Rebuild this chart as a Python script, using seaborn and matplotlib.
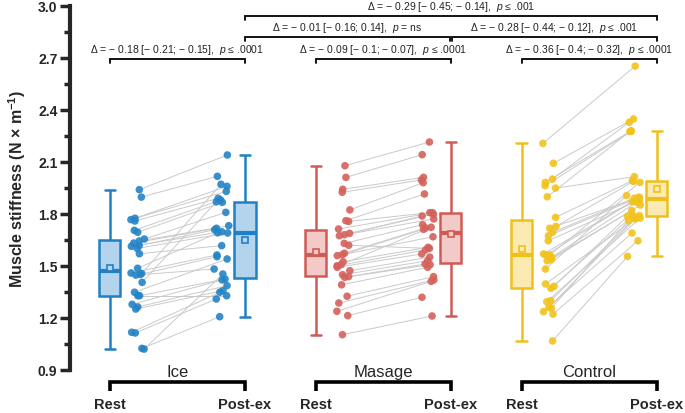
import numpy as np
import pandas as pd
import seaborn as sns
import matplotlib.pyplot as plt
from matplotlib.ticker import MultipleLocator

# values, one entry per subject (rest / post-ex paired)
groups = ['Ice', 'Masage', 'Control']
phases = ['Rest', 'Post-ex']

ice_rest = [1.939, 1.896, 1.774, 1.766, 1.455, 1.758, 1.704, 1.693, 1.654, 1.643,
            1.631, 1.616, 1.612, 1.600, 1.569, 1.485, 1.458, 1.450, 1.446, 1.404,
            1.347, 1.327, 1.327, 1.277, 1.262, 1.250, 1.116, 1.112, 1.023, 1.019]
ice_post = [2.139, 2.016, 1.958, 1.929, 1.970, 1.889, 1.879, 1.866, 1.808, 1.731,
            1.716, 1.708, 1.696, 1.689, 1.616, 1.690, 1.562, 1.552, 1.481, 1.869,
            1.539, 1.327, 1.423, 1.418, 1.385, 1.356, 1.347, 1.308, 1.206, 1.452]

mas_rest = [2.077, 2.010, 1.941, 1.924, 1.822, 1.760, 1.756, 1.712, 1.687, 1.679,
            1.673, 1.629, 1.618, 1.572, 1.564, 1.558, 1.523, 1.506, 1.500, 1.491,
            1.471, 1.448, 1.437, 1.433, 1.390, 1.324, 1.285, 1.237, 1.212, 1.102]
mas_post = [2.214, 2.141, 2.010, 1.995, 1.979, 1.914, 1.806, 1.806, 1.798, 1.787,
            1.770, 1.737, 1.600, 1.718, 1.710, 1.667, 1.606, 1.722, 1.591, 1.568,
            1.550, 1.529, 1.510, 1.506, 1.491, 1.437, 1.418, 1.410, 1.318, 1.210]

con_rest = [2.206, 2.091, 2.000, 1.981, 1.962, 1.948, 1.898, 1.779, 1.727, 1.716,
            1.693, 1.673, 1.644, 1.568, 1.562, 1.562, 1.549, 1.535, 1.529, 1.481,
            1.395, 1.381, 1.370, 1.298, 1.292, 1.260, 1.255, 1.235, 1.221, 1.066]
con_post = [2.652, 2.347, 2.328, 2.279, 2.275, 2.014, 2.275, 1.991, 1.987, 1.895,
            1.890, 1.894, 1.880, 1.870, 1.981, 1.889, 1.866, 1.850, 1.818, 1.905,
            1.789, 1.785, 1.790, 1.779, 1.775, 1.770, 1.760, 1.689, 1.644, 1.554]

comparisons = [
    ('Ice', 'Rest', 'Ice', 'Post-ex', 0, '\u0394 = \u2212 0.18 [\u2212 0.21; \u2212 0.15],  $p$ \u2264 .0001'),
    ('Masage', 'Rest', 'Masage', 'Post-ex', 0, '\u0394 = \u2212 0.09 [\u2212 0.1; \u2212 0.07],  $p$ \u2264 .0001'),
    ('Control', 'Rest', 'Control', 'Post-ex', 0, '\u0394 = \u2212 0.36 [\u2212 0.4; \u2212 0.32],  $p$ \u2264 .0001'),
    ('Ice', 'Post-ex', 'Masage', 'Post-ex', 1, '\u0394 = \u2212 0.01 [\u2212 0.16; 0.14],  $p$ = ns'),
    ('Masage', 'Post-ex', 'Control', 'Post-ex', 1, '\u0394 = \u2212 0.28 [\u2212 0.44; \u2212 0.12],  $p$ \u2264 .001'),
    ('Ice', 'Post-ex', 'Control', 'Post-ex', 2, '\u0394 = \u2212 0.29 [\u2212 0.45; \u2212 0.14],  $p$ \u2264 .001'),
]

dots = {'Ice': '#2584c6', 'Masage': '#d4625b', 'Control': '#f1c31c'}
edges = {'Ice': '#1f80c4', 'Masage': '#d05b54', 'Control': '#f0c01a'}
faces = {'Ice': '#b4d4ee', 'Masage': '#f3cac7', 'Control': '#fbebb3'}
offset = {'Ice': 0.0, 'Masage': 1.525, 'Control': 3.05}

# long table
rows = []
rng = np.random.default_rng(7)
values = {'Ice': (ice_rest, ice_post), 'Masage': (mas_rest, mas_post), 'Control': (con_rest, con_post)}
for g in groups:
    rest, post = values[g]
    for i, (r, p) in enumerate(zip(rest, post)):
        sid = f'{g}_{i}'
        rows.append(dict(group=g, subject=sid, phase='Rest', value=r, pos=offset[g],
                         xj=offset[g] + 0.205 + rng.uniform(-0.05, 0.05)))
        rows.append(dict(group=g, subject=sid, phase='Post-ex', value=p, pos=offset[g] + 1,
                         xj=offset[g] + 0.826 + rng.uniform(-0.055, 0.055)))
df = pd.DataFrame(rows)

sns.set_style('ticks')
plt.rcParams['font.family'] = ['Liberation Sans', 'DejaVu Sans']
plt.rcParams['mathtext.fontset'] = 'custom'
plt.rcParams['mathtext.it'] = 'Liberation Sans:italic'
plt.rcParams['mathtext.bf'] = 'Liberation Sans:bold'
plt.rcParams['mathtext.rm'] = 'Liberation Sans'

fig = plt.figure(figsize=(6.85, 4.14), dpi=100)
ax = fig.add_axes([70 / 685, 43.3 / 414, 610 / 685, 363.9 / 414])

# paired lines
sns.lineplot(data=df, x='xj', y='value', units='subject', estimator=None, sort=False,
             color='#cacaca', linewidth=0.7, zorder=1, legend=False, ax=ax)

for g in groups:
    sub = df[df.group == g]
    sns.boxplot(data=sub, x='pos', y='value', native_scale=True, orient='v', width=0.156,
                color=faces[g], linecolor=edges[g], linewidth=1.8, saturation=1,
                showfliers=False, showmeans=True,
                meanprops=dict(marker='s', markerfacecolor=faces[g], markeredgecolor=edges[g],
                               markersize=5, markeredgewidth=1.2),
                medianprops=dict(linewidth=3, color=edges[g]), ax=ax)
    sns.scatterplot(data=sub, x='xj', y='value', color=dots[g], s=30, edgecolor='none',
                    alpha=0.9, zorder=3, legend=False, ax=ax)

ax.set_xlim(-0.296, 4.222)
ax.set_ylim(0.9, 3.0)
ax.set_yticks(np.arange(0.9, 3.01, 0.3))
ax.yaxis.set_minor_locator(MultipleLocator(0.15))
ax.set_yticklabels([f'{v:.1f}' for v in np.arange(0.9, 3.01, 0.3)], fontweight='bold', fontsize=10)
ax.tick_params(axis='y', which='major', length=7, width=2.5, pad=2)
ax.tick_params(axis='y', which='minor', length=4, width=2.5)
ax.set_xticks([])
ax.set_xlabel('')
for s in ['top', 'right', 'bottom']:
    ax.spines[s].set_visible(False)
ax.spines['left'].set_linewidth(3)
ax.set_ylabel('Muscle stiffness (N \u00d7 m$^{\\mathbf{-1}}$)', fontsize=11.5, fontweight='bold', labelpad=7)

# group labels and brackets under the axis
for g in groups:
    o = offset[g]
    ax.text(o + 0.5, 0.892, g, ha='center', va='center', fontsize=12, clip_on=False)
    ax.plot([o, o, o + 1, o + 1], [0.777, 0.829, 0.829, 0.777], color='black', lw=2.6,
            clip_on=False, solid_joinstyle='miter', solid_capstyle='butt')
    for k, ph in enumerate(phases):
        ax.text(o + k, 0.702, ph, ha='center', va='center', fontsize=10.5,
                fontweight='bold', clip_on=False)

# comparison brackets on top
line_y = [2.693, 2.820, 2.941]
for g1, p1, g2, p2, lvl, label in comparisons:
    x1 = offset[g1] + phases.index(p1)
    x2 = offset[g2] + phases.index(p2)
    if lvl == 1:
        x1 += 0.008 if g1 == 'Masage' else 0
        x2 -= 0.008 if g2 == 'Masage' else 0
    y = line_y[lvl]
    ax.plot([x1, x1, x2, x2], [y - 0.022, y, y, y - 0.022], color='black', lw=1.3,
            clip_on=False, solid_joinstyle='miter')
    ax.text((x1 + x2) / 2, y + 0.055, label, ha='center', va='center', fontsize=7.5,
            color='#222222', clip_on=False)

fig.savefig('out.png', dpi=100)
